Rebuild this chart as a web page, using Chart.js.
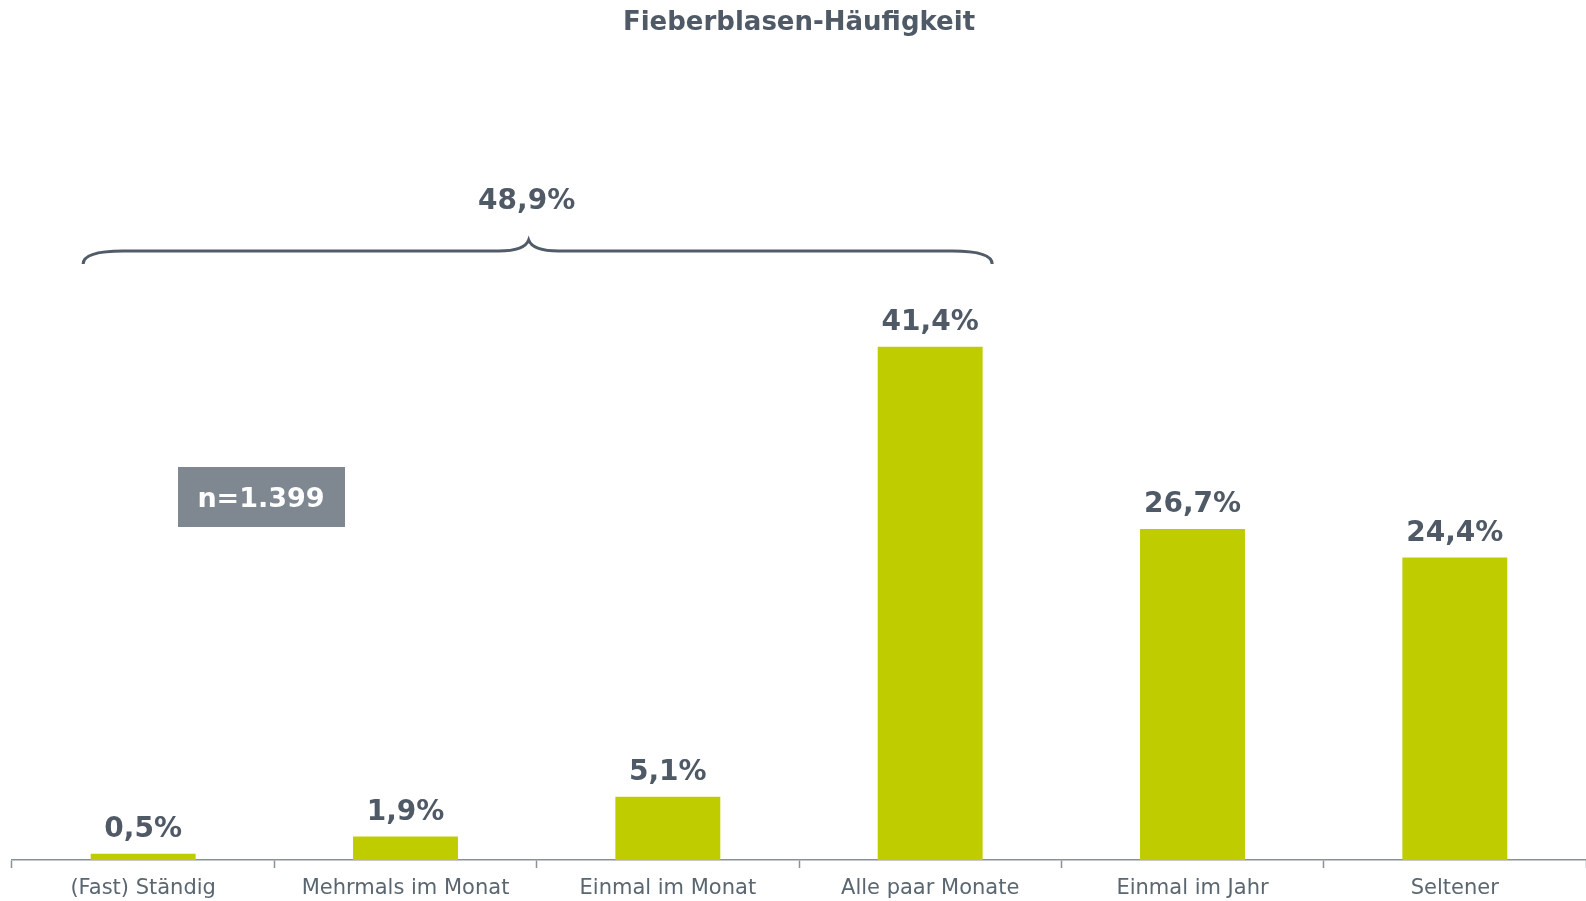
<!DOCTYPE html>
<html>
<head>
<meta charset="utf-8">
<script src="https://cdn.jsdelivr.net/npm/chart.js@4"></script>
<style>
  html, body { margin: 0; padding: 0; background: #fff; }
  #wrap { width: 1586px; height: 901px; position: relative; }
</style>
</head>
<body>
<div id="wrap"><canvas id="myChart"></canvas></div>
<script>
const categories = ['(Fast) Ständig', 'Mehrmals im Monat', 'Einmal im Monat', 'Alle paar Monate', 'Einmal im Jahr', 'Seltener'];
const values = [0.5, 1.9, 5.1, 41.4, 26.7, 24.4];
const valueLabels = ['0,5%', '1,9%', '5,1%', '41,4%', '26,7%', '24,4%'];
const braceLabel = '48,9%';
const braceFrom = 0, braceTo = 3;
const sampleLabel = 'n=1.399';

const FONT = '"DejaVu Sans", Verdana, sans-serif';
const TEXT_DARK = '#4f5a66';

// value labels above bars, brace and n box
const extras = {
  id: 'extras',
  afterDatasetsDraw(chart) {
    const ctx = chart.ctx;
    const meta = chart.getDatasetMeta(0);
    ctx.save();
    ctx.fillStyle = TEXT_DARK;
    ctx.font = 'bold 28px ' + FONT;
    ctx.textAlign = 'center';
    ctx.textBaseline = 'middle';
    meta.data.forEach((bar, i) => {
      ctx.fillText(valueLabels[i], bar.x, bar.y - 24);
    });

    // curly brace over the first four bars
    const x0 = meta.data[braceFrom].x - 60;
    const x1 = meta.data[braceTo].x + 62;
    const mid = (x0 + x1) / 2 - 9;
    const yb = 264, yl = 251, yt = 240;
    ctx.strokeStyle = '#505c68';
    ctx.lineWidth = 3;
    ctx.beginPath();
    ctx.moveTo(x0, yb);
    ctx.quadraticCurveTo(x0, yl, x0 + 40, yl);
    ctx.lineTo(mid - 30, yl);
    ctx.quadraticCurveTo(mid - 4, yl, mid, yt);
    ctx.quadraticCurveTo(mid + 4, yl, mid + 30, yl);
    ctx.lineTo(x1 - 40, yl);
    ctx.quadraticCurveTo(x1, yl, x1, yb);
    ctx.stroke();
    ctx.fillText(braceLabel, mid - 2, 202);

    // sample size box
    ctx.fillStyle = '#7f8790';
    ctx.fillRect(178, 467, 167, 60);
    ctx.fillStyle = '#ffffff';
    ctx.font = 'bold 27px ' + FONT;
    ctx.fillText(sampleLabel, 261, 500);
    ctx.restore();
  }
};

const data = {
  labels: categories,
  datasets: [{
    data: values,
    backgroundColor: '#bfcd00',
    borderWidth: 0,
    barPercentage: 0.4,
    categoryPercentage: 1
  }]
};

const options = {
  responsive: false,
  animation: false,
  layout: { padding: { left: 12, right: 0, top: 0, bottom: 0 } },
  plugins: {
    legend: { display: false },
    tooltip: { enabled: false },
    title: {
      display: true,
      text: 'Fieberblasen-Häufigkeit',
      color: TEXT_DARK,
      font: { family: FONT, size: 26, weight: 'bold' },
      padding: { top: 8, bottom: 201 }
    }
  },
  scales: {
    x: {
      offset: true,
      grid: { offset: true, drawOnChartArea: false, tickLength: 8, color: '#8a9198', tickWidth: 1.5 },
      border: { color: '#8a9198', width: 1.5 },
      ticks: { color: '#5a6670', font: { family: FONT, size: 21 }, padding: 8, maxRotation: 0, autoSkip: false },
      afterFit(scale) { scale.height = 41; }
    },
    y: {
      display: false,
      min: 0,
      max: 50
    }
  }
};

const canvas = document.getElementById('myChart');
canvas.width = 1586;
canvas.height = 901;
const myChart = new Chart(canvas.getContext('2d'), {
  type: 'bar',
  data: data,
  options: options,
  plugins: [extras]
});
</script>
</body>
</html>
